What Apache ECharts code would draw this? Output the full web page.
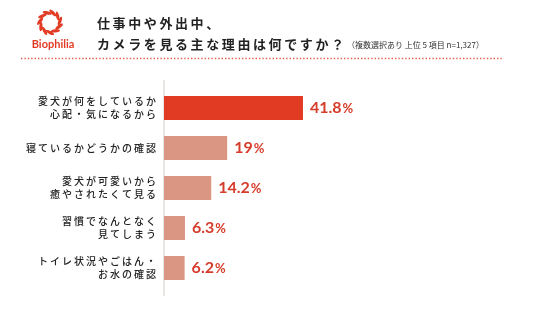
<!DOCTYPE html>
<html>
<head>
<meta charset="utf-8">
<script src="https://cdn.jsdelivr.net/npm/echarts@6/dist/echarts.min.js"></script>
<style>
  html, body { margin: 0; padding: 0; background: #fff; }
  #chart { width: 536px; height: 322px; }
</style>
</head>
<body>
<div id="chart"></div>
<script>
// Survey answers (top 5, multiple choice, n=1,327)
const categories = [
  '愛犬が何をしているか\n心配・気になるから',
  '寝ているかどうかの確認',
  '愛犬が可愛いから\n癒やされたくて見る',
  '習慣でなんとなく\n見てしまう',
  'トイレ状況やごはん・\nお水の確認'
];
const values = [41.8, 19, 14.2, 6.3, 6.2];
const valueLabels = ['41.8', '19', '14.2', '6.3', '6.2'];

const titleLine1 = '仕事中や外出中、';
const titleLine2 = 'カメラを見る主な理由は何ですか？';
const subtitle = '（複数選択あり 上位 5 項目 n=1,327）';

const FONT = '"Noto Sans CJK JP", "Noto Sans", sans-serif';
const NUM_FONT = 'Lato, "Open Sans", sans-serif';
const RED = '#e23b24';
const SALMON = '#da9682';
const LABEL_RED = '#d63c2b';

// widen Japanese text with thin spaces between characters
function spaced(s) {
  return s.split('\n').map(line => Array.from(line).join('\u2009')).join('\n');
}

// logo wreath: small leaves around a ring
function logoLeaves(cx, cy, r, n) {
  const els = [];
  for (let i = 0; i < n; i++) {
    const a = -Math.PI / 2 + (i + 0.5) * 2 * Math.PI / n;
    els.push({
      type: 'ellipse',
      x: cx + r * Math.cos(a),
      y: cy + r * Math.sin(a),
      rotation: -(a + Math.PI / 2) - 0.5,
      shape: { cx: 0, cy: 0, rx: 4.6, ry: 1.6 },
      style: { fill: RED }
    });
  }
  return els;
}

const chart = echarts.init(document.getElementById('chart'), null, { renderer: 'canvas' });

chart.setOption({
  backgroundColor: '#fff',
  animation: false,
  grid: { left: 164, top: 88, height: 200, width: 266 },
  xAxis: {
    type: 'value', min: 0, max: 80,
    show: false
  },
  yAxis: {
    type: 'category',
    inverse: true,
    data: categories,
    axisLine: { show: false },
    axisTick: { show: false },
    axisLabel: {
      margin: 8,
      color: '#222',
      fontFamily: FONT,
      fontSize: 10,
      fontWeight: 500,
      lineHeight: 13,
      align: 'right',
      formatter: v => spaced(v)
    }
  },
  series: [{
    type: 'bar',
    barWidth: 24,
    data: values.map((v, i) => ({
      value: v,
      itemStyle: { color: i === 0 ? RED : SALMON }
    })),
    label: {
      show: true,
      position: 'right',
      distance: 7,
      formatter: p => '{n|' + valueLabels[p.dataIndex] + '}{p|%}',
      rich: {
        n: { fontFamily: NUM_FONT, fontSize: 16, fontWeight: 'bold', color: LABEL_RED },
        p: { fontFamily: NUM_FONT, fontSize: 13, fontWeight: 'bold', color: LABEL_RED, padding: [1, 0, 0, 1] }
      }
    }
  }],
  graphic: [
    // vertical baseline
    { type: 'line', shape: { x1: 164, y1: 80, x2: 164, y2: 296 },
      style: { stroke: '#e2ddd8', lineWidth: 1.5 } },
    // dotted divider under the heading
    { type: 'line', shape: { x1: 21, y1: 58.5, x2: 503, y2: 58.5 },
      style: { stroke: '#e4604c', lineWidth: 1.4, lineDash: [1.4, 2], lineCap: 'butt' } },
    // heading
    { type: 'text', x: 97, y: 23,
      style: { text: spaced(titleLine1), font: 'bold 13px ' + FONT, fill: '#222', verticalAlign: 'middle' } },
    { type: 'text', x: 97, y: 44,
      style: { text: spaced(titleLine2), font: 'bold 13px ' + FONT, fill: '#222', verticalAlign: 'middle' } },
    { type: 'text', x: 347, y: 45,
      style: { text: subtitle, font: '8px ' + FONT, fill: '#333', verticalAlign: 'middle' } },
    // logo
    { type: 'group', children: logoLeaves(50, 22.5, 10, 11) },
    { type: 'text', x: 53, y: 44,
      style: { text: 'Biophilia', font: 'bold 11px ' + NUM_FONT, fill: RED, align: 'center', verticalAlign: 'middle' } }
  ]
});
</script>
</body>
</html>
